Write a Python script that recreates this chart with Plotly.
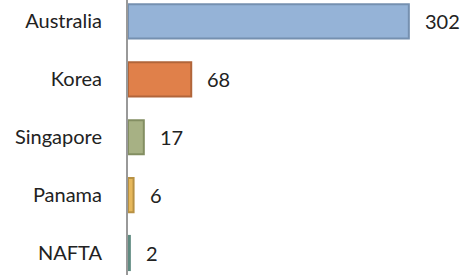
import plotly.graph_objects as go

categories = ["Australia", "Korea", "Singapore", "Panama", "NAFTA"]
values = [302, 68, 17, 6, 2]
fill_colors = ["#95B3D7", "#E0804A", "#A7B184", "#E6B85C", "#7DAEA2"]
line_colors = ["#7590B0", "#B1653A", "#838E62", "#B89143", "#5F8A80"]

fig = go.Figure()
fig.add_trace(go.Bar(
    y=categories, x=values, orientation="h",
    marker=dict(color=fill_colors, line=dict(color=line_colors, width=2)),
    width=0.59,
    hoverinfo="skip",
))

for c, v in zip(categories, values):
    fig.add_annotation(x=v, y=c, text=str(v), xanchor="left", yanchor="middle",
                       xshift=14, showarrow=False,
                       font=dict(family="Lato", size=20, color="#222222"))

fig.update_layout(
    width=473, height=275,
    margin=dict(l=128, r=0, t=0, b=0, autoexpand=False),
    paper_bgcolor="white", plot_bgcolor="white",
    showlegend=False,
    font=dict(family="Lato", size=20, color="#222222"),
    xaxis=dict(range=[0, 371], showgrid=False, zeroline=False,
               showticklabels=False, showline=False, fixedrange=True,
               automargin=False),
    yaxis=dict(range=[4.38, -0.37], showgrid=False, zeroline=False,
               showline=True, linecolor="#999999", linewidth=2,
               ticks="", ticklabelstandoff=20, automargin=False,
               tickfont=dict(family="Lato", size=20, color="#222222")),
)

fig.write_html("out.html", config={"displayModeBar": False},
               post_script="document.body.style.margin='0';document.body.style.overflow='hidden';")
